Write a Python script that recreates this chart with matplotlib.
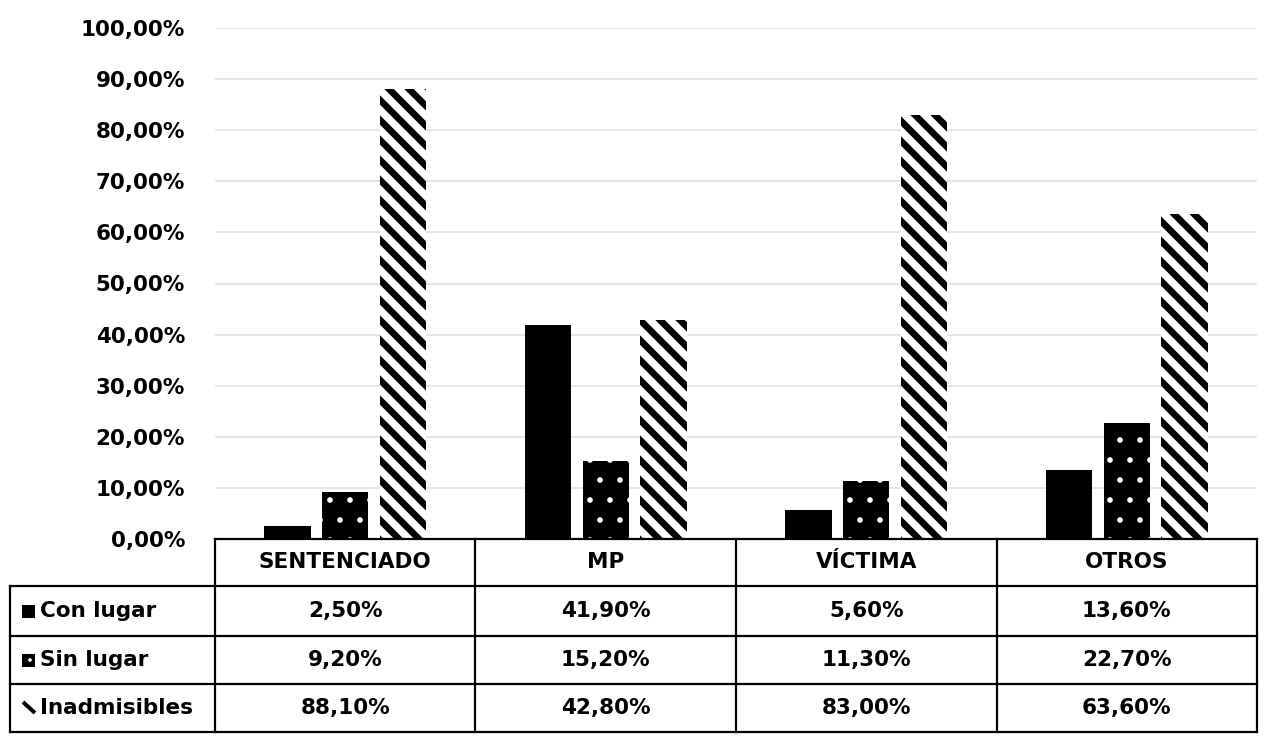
import matplotlib
matplotlib.use("Agg")
import matplotlib.pyplot as plt
from matplotlib.patches import Rectangle
import numpy as np

categories = ["SENTENCIADO", "MP", "VÍCTIMA", "OTROS"]
series_names = ["Con lugar", "Sin lugar", "Inadmisibles"]
con_lugar = [2.5, 41.9, 5.6, 13.6]
sin_lugar = [9.2, 15.2, 11.3, 22.7]
inadmisibles = [88.1, 42.8, 83.0, 63.6]
table_text = [["2,50%", "41,90%", "5,60%", "13,60%"],
              ["9,20%", "15,20%", "11,30%", "22,70%"],
              ["88,10%", "42,80%", "83,00%", "63,60%"]]
yticks = [0, 10, 20, 30, 40, 50, 60, 70, 80, 90, 100]
ytick_labels = ["0,00%", "10,00%", "20,00%", "30,00%", "40,00%", "50,00%",
                "60,00%", "70,00%", "80,00%", "90,00%", "100,00%"]

DPI = 120
W, H = 1271, 736


def pt(px):
    return px * 72.0 / DPI


plt.rcParams['font.family'] = ['DejaVu Sans']
FS = pt(21.5)

fig = plt.figure(figsize=(W / DPI, H / DPI), dpi=DPI)


def fx(px):
    return px / W


def fy(py):
    return 1 - py / H


ax_l, ax_r, ax_t, ax_b = 215, 1257, 28, 539
ax = fig.add_axes([fx(ax_l), fy(ax_b), fx(ax_r - ax_l), fy(ax_t) - fy(ax_b)])
ax.set_xlim(-0.5, len(categories) - 0.5)
ax.set_ylim(0, 100)
x = np.arange(len(categories))
bw = 0.178
off = 0.222

ax.bar(x - off, con_lugar, bw, color="black", edgecolor="black", linewidth=0, zorder=3)

plt.rcParams['hatch.linewidth'] = 1.0
b2 = ax.bar(x, sin_lugar, bw, color="black", edgecolor="white", hatch=".", linewidth=0, zorder=3)
plt.rcParams['hatch.linewidth'] = 4.0
b3 = ax.bar(x + off, inadmisibles, bw, color="white", edgecolor="black", hatch="\\\\", linewidth=0, zorder=3)
for p in b2:
    if hasattr(p, "set_hatch_linewidth"):
        p.set_hatch_linewidth(1.0)
for p in b3:
    if hasattr(p, "set_hatch_linewidth"):
        p.set_hatch_linewidth(4.0)

ax.set_yticks(yticks)
ax.set_yticklabels(ytick_labels, fontsize=FS, fontweight="bold")
ax.set_xticks([])
ax.tick_params(axis="y", length=0, pad=pt(30))
ax.grid(axis="y", color="#dddddd", linewidth=pt(1.5), zorder=0)
for s in ["top", "right", "left", "bottom"]:
    ax.spines[s].set_visible(False)

# table
col_edges = [215, 475.5, 736, 996.5, 1257]
row_edges = [539, 586, 636, 684, 732]
left_col = 10
lw = pt(2.2)


def hline(y, x0, x1):
    fig.add_artist(plt.Line2D([fx(x0), fx(x1)], [fy(y), fy(y)], color="black", lw=lw,
                              solid_capstyle="projecting"))


def vline(xp, y0, y1):
    fig.add_artist(plt.Line2D([fx(xp), fx(xp)], [fy(y0), fy(y1)], color="black", lw=lw,
                              solid_capstyle="projecting"))


hline(row_edges[0], col_edges[0], col_edges[-1])
for y in row_edges[1:]:
    hline(y, left_col, col_edges[-1])
vline(left_col, row_edges[1], row_edges[-1])
for xp in col_edges:
    vline(xp, row_edges[0], row_edges[-1])

for i, c in enumerate(categories):
    xc = (col_edges[i] + col_edges[i + 1]) / 2
    yc = (row_edges[0] + row_edges[1]) / 2
    fig.text(fx(xc), fy(yc), c, ha="center", va="center", fontsize=FS, fontweight="bold")

for r in range(3):
    yc = (row_edges[r + 1] + row_edges[r + 2]) / 2
    for i in range(len(categories)):
        xc = (col_edges[i] + col_edges[i + 1]) / 2
        fig.text(fx(xc), fy(yc), table_text[r][i], ha="center", va="center",
                 fontsize=FS, fontweight="bold")
    fig.text(fx(40), fy(yc), series_names[r], ha="left", va="center",
             fontsize=FS, fontweight="bold")

# legend keys
ks = 13
yc0 = (row_edges[1] + row_edges[2]) / 2
fig.add_artist(Rectangle((fx(22), fy(yc0 + ks / 2)), fx(ks), fy(yc0 - ks / 2) - fy(yc0 + ks / 2),
                         transform=fig.transFigure, facecolor="black", linewidth=0))
plt.rcParams['hatch.linewidth'] = 1.0
yc1 = (row_edges[2] + row_edges[3]) / 2
k2 = Rectangle((fx(22), fy(yc1 + ks / 2)), fx(ks), fy(yc1 - ks / 2) - fy(yc1 + ks / 2),
               transform=fig.transFigure, facecolor="black", edgecolor="white",
               hatch="..", linewidth=0)
fig.add_artist(k2)
yc2 = (row_edges[3] + row_edges[4]) / 2
fig.add_artist(plt.Line2D([fx(23), fx(35)], [fy(yc2 - 6), fy(yc2 + 5)], color="black",
                          lw=pt(4), solid_capstyle="butt"))

fig.savefig("out.png", dpi=DPI, facecolor="white")
